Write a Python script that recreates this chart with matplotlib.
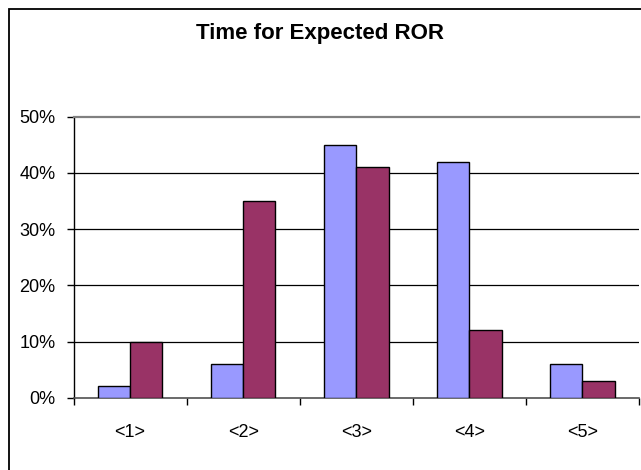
import matplotlib.pyplot as plt
import matplotlib.patches as patches
import numpy as np
from matplotlib.ticker import FuncFormatter, FixedLocator

# Dados do gráfico
categorias = ['<1>', '<2>', '<3>', '<4>', '<5>']
serie_azul = [2, 6, 45, 42, 6]
serie_vinho = [10, 35, 41, 12, 3]

plt.rcParams['font.family'] = ['Liberation Sans Narrow', 'Liberation Sans', 'DejaVu Sans']

W, H = 641, 470
fig = plt.figure(figsize=(W / 100, H / 100), dpi=100)
fig.patch.set_facecolor('white')

# Moldura externa (cortada à direita e embaixo)
fig.patches.append(patches.Rectangle((8.5 / W, -0.1), 1.2, 1 - 8.5 / H + 0.1,
                                     transform=fig.transFigure, fill=False,
                                     edgecolor='black', linewidth=1.3))

ax = fig.add_axes([73.5 / W, 72.3 / H, (639 - 73.5) / W, (397.7 - 116.7) / H])

x = np.arange(len(categorias))
largura = 1 / 3.5
ax.bar(x - largura / 2, serie_azul, largura, color='#9999FF', edgecolor='black', linewidth=1.0, zorder=3)
ax.bar(x + largura / 2, serie_vinho, largura, color='#993366', edgecolor='black', linewidth=1.0, zorder=3)

ax.set_xlim(-0.5, len(categorias) - 0.5)
ax.set_ylim(0, 50)

# Grade horizontal
for v in [10, 20, 30, 40]:
    ax.axhline(v, color='black', linewidth=0.9, zorder=1)

ax.set_yticks([0, 10, 20, 30, 40, 50])
ax.yaxis.set_major_formatter(FuncFormatter(lambda v, p: f'{int(v)}%'))
ax.set_xticks(x)
ax.set_xticklabels(categorias)
ax.xaxis.set_minor_locator(FixedLocator(np.arange(-0.5, len(categorias), 1.0)))
ax.tick_params(axis='x', which='major', length=0, pad=19, labelsize=13)
ax.tick_params(axis='x', which='minor', length=5, width=1, color='black', direction='out')
ax.tick_params(axis='y', length=5, width=1, color='black', direction='out', pad=8, labelsize=13)

ax.spines['right'].set_visible(False)
ax.spines['top'].set_color('#808080')
ax.spines['top'].set_linewidth(1.6)
ax.spines['bottom'].set_color('#505050')
ax.spines['bottom'].set_linewidth(1.2)
ax.spines['left'].set_color('black')
ax.spines['left'].set_linewidth(1.0)

fig.text(320 / W, 1 - 34 / H, 'Time for Expected ROR', ha='center', va='center',
         fontsize=16, fontweight='bold')

fig.savefig('out.png', dpi=100)
